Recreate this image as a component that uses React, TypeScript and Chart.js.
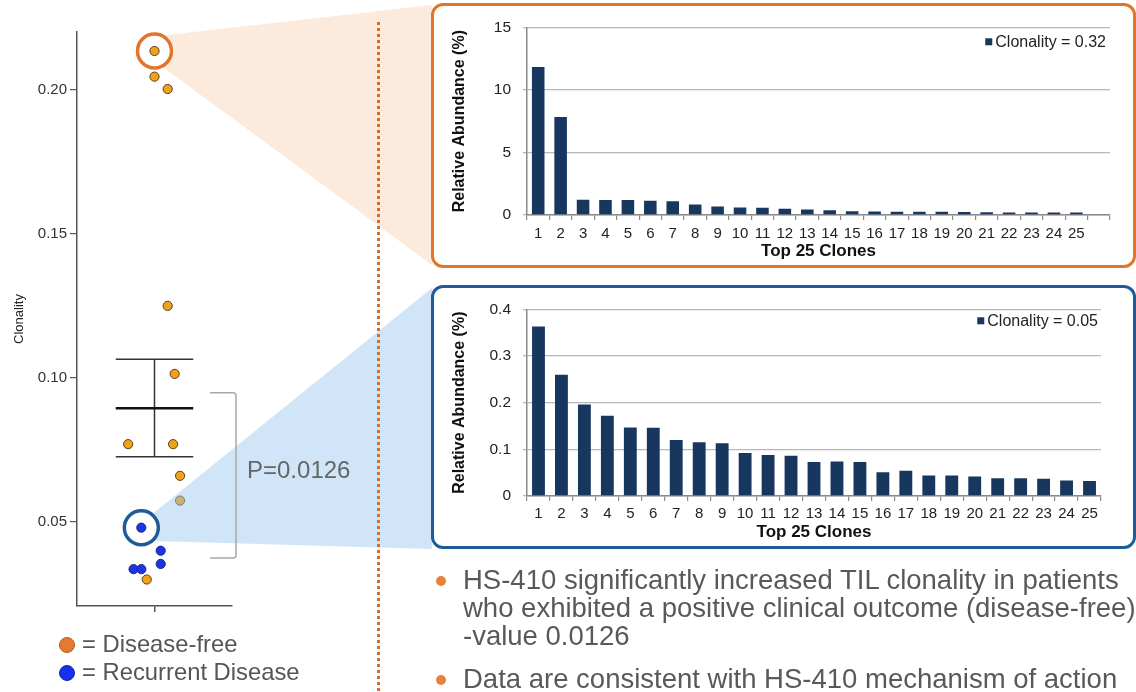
import React, { useEffect, useRef } from "react";
import { Chart, registerables } from "chart.js";

Chart.register(...registerables);

// ---------- Data ----------
const CLONALITY_TICKS = [0.05, 0.1, 0.15, 0.2];
const DISEASE_FREE_X = [0, 0, 0.17, 0.17, 0.26, -0.34, 0.24, 0.33, 0.33, -0.1];
const DISEASE_FREE_Y = [0.2135, 0.2046, 0.2003, 0.125, 0.1014, 0.077, 0.077, 0.066, 0.0574, 0.03];
const RECURRENT_X = [-0.17, 0.08, 0.08, -0.27, -0.17];
const RECURRENT_Y = [0.048, 0.04, 0.0354, 0.0336, 0.0336];
const GROUP_MEAN = 0.0895;
const SEM_UPPER = 0.1065;
const SEM_LOWER = 0.0726;
const BRACKET_RANGE = [0.0375, 0.0948];
const P_VALUE_LABEL = "P=0.0126";

const CLONE_LABELS = [
  "1", "2", "3", "4", "5", "6", "7", "8", "9", "10", "11", "12", "13",
  "14", "15", "16", "17", "18", "19", "20", "21", "22", "23", "24", "25",
];
const HIGH_ABUNDANCE = [
  11.82, 7.83, 1.21, 1.19, 1.19, 1.13, 1.1, 0.83, 0.68, 0.6, 0.57, 0.5, 0.43,
  0.38, 0.3, 0.27, 0.26, 0.25, 0.25, 0.23, 0.22, 0.2, 0.2, 0.19, 0.19,
];
const LOW_ABUNDANCE = [
  0.363, 0.26, 0.196, 0.172, 0.147, 0.146, 0.12, 0.115, 0.113, 0.092, 0.088,
  0.086, 0.073, 0.074, 0.073, 0.051, 0.054, 0.044, 0.044, 0.042, 0.038, 0.038,
  0.037, 0.033, 0.032,
];
const HIGH_LEGEND = "Clonality = 0.32";
const LOW_LEGEND = "Clonality = 0.05";

const FONT = '"Liberation Sans", Arial, Helvetica, sans-serif';
const NAVY = "#18375f";
const ORANGE_LINE = "#e2752c";
const BLUE_LINE = "#1f5b98";

// ---------- Scatter (left) ----------
function scatterConfig(): any {
  const decor = {
    id: "decor",
    afterDatasetsDraw(chart: any) {
      const { ctx, scales, chartArea } = chart;
      const x = scales.x;
      const y = scales.y;
      const R = 18;
      const hx = x.getPixelForValue(DISEASE_FREE_X[0]);
      const hy = y.getPixelForValue(DISEASE_FREE_Y[0]);
      const bx = x.getPixelForValue(RECURRENT_X[0]);
      const by = y.getPixelForValue(RECURRENT_Y[0]);
      const boxLeft = 432;
      ctx.save();
      // orange wedge
      const a1 = (-56 * Math.PI) / 180;
      const a2 = (61 * Math.PI) / 180;
      ctx.beginPath();
      ctx.moveTo(boxLeft, 5);
      ctx.lineTo(boxLeft, 265);
      ctx.lineTo(hx + (R + 1) * Math.cos(a2), hy + (R + 1) * Math.sin(a2));
      ctx.arc(hx, hy, R + 1, a2, a1, true);
      ctx.closePath();
      ctx.fillStyle = "rgba(240,160,100,0.22)";
      ctx.fill();
      // blue wedge
      const b1 = (-50 * Math.PI) / 180;
      const b2 = (45 * Math.PI) / 180;
      ctx.beginPath();
      ctx.moveTo(boxLeft, 288);
      ctx.lineTo(boxLeft, 549);
      ctx.lineTo(bx + (R + 1) * Math.cos(b2), by + (R + 1) * Math.sin(b2));
      ctx.arc(bx, by, R + 1, b2, b1, true);
      ctx.closePath();
      ctx.fillStyle = "rgba(150,198,238,0.45)";
      ctx.fill();
      // dotted separator
      ctx.beginPath();
      ctx.setLineDash([3, 3]);
      ctx.strokeStyle = "#e06a1c";
      ctx.lineWidth = 3;
      ctx.moveTo(378.5, 22);
      ctx.lineTo(378.5, 692);
      ctx.stroke();
      ctx.setLineDash([]);
      // highlight circles
      ctx.lineWidth = 3.5;
      ctx.strokeStyle = ORANGE_LINE;
      ctx.beginPath();
      ctx.arc(hx, hy, R - 1, 0, Math.PI * 2);
      ctx.stroke();
      ctx.strokeStyle = BLUE_LINE;
      ctx.beginPath();
      ctx.arc(bx, by, R - 1, 0, Math.PI * 2);
      ctx.stroke();
      // bracket
      const t = y.getPixelForValue(BRACKET_RANGE[1]);
      const b = y.getPixelForValue(BRACKET_RANGE[0]);
      const xr = chartArea.right + 4;
      const xl = chartArea.right - 22;
      ctx.strokeStyle = "#a8a8a8";
      ctx.lineWidth = 1.5;
      ctx.beginPath();
      ctx.moveTo(xl, t);
      ctx.lineTo(xr - 3, t);
      ctx.quadraticCurveTo(xr, t, xr, t + 3);
      ctx.lineTo(xr, b - 3);
      ctx.quadraticCurveTo(xr, b, xr - 3, b);
      ctx.lineTo(xl, b);
      ctx.stroke();
      // p-value
      ctx.fillStyle = "#666";
      ctx.font = `24px ${FONT}`;
      ctx.textBaseline = "middle";
      ctx.textAlign = "left";
      ctx.fillText(P_VALUE_LABEL, chartArea.right + 15, (t + b) / 2 - 4);
      ctx.restore();
    },
  };

  const seg = (pts: { x: number; y: number }[], color: string, w: number) => ({
    data: pts,
    showLine: true,
    borderColor: color,
    borderWidth: w,
    pointRadius: 0,
    fill: false,
  });

  return {
    type: "scatter",
    data: {
      datasets: [
        seg([{ x: -0.5, y: GROUP_MEAN }, { x: 0.5, y: GROUP_MEAN }], "#111", 2.5),
        seg([{ x: -0.5, y: SEM_UPPER }, { x: 0.5, y: SEM_UPPER }], "#333", 1.5),
        seg([{ x: -0.5, y: SEM_LOWER }, { x: 0.5, y: SEM_LOWER }], "#333", 1.5),
        seg([{ x: 0, y: SEM_LOWER }, { x: 0, y: SEM_UPPER }], "#333", 1.5),
        {
          label: "Disease-free",
          data: DISEASE_FREE_X.map((v, i) => ({ x: v, y: DISEASE_FREE_Y[i] })),
          backgroundColor: "#f0a21f",
          borderColor: "#5e4012",
          borderWidth: 1,
          pointRadius: 4.6,
        },
        {
          label: "Recurrent Disease",
          data: RECURRENT_X.map((v, i) => ({ x: v, y: RECURRENT_Y[i] })),
          backgroundColor: "#1b34e8",
          borderColor: "#1b2a78",
          borderWidth: 1,
          pointRadius: 4.6,
        },
      ],
    },
    options: {
      responsive: false,
      animation: false,
      devicePixelRatio: 1,
      layout: { padding: { left: 0, top: 32, right: 904, bottom: 0 } },
      plugins: { legend: { display: false }, tooltip: { enabled: false } },
      scales: {
        x: {
          type: "linear",
          min: -1,
          max: 1,
          afterBuildTicks: (axis: any) => {
            axis.ticks = [{ value: 0 }];
          },
          ticks: { callback: () => "", font: { size: 1 } },
          grid: { drawOnChartArea: false, drawTicks: true, tickLength: 6, color: "#555", lineWidth: 1.5 },
          border: { color: "#555", width: 1.5 },
          afterFit: (axis: any) => {
            axis.height = 86;
          },
        },
        y: {
          type: "linear",
          min: 0.0208,
          max: 0.2201,
          afterBuildTicks: (axis: any) => {
            axis.ticks = CLONALITY_TICKS.map((v) => ({ value: v }));
          },
          ticks: {
            callback: (v: any) => Number(v).toFixed(2),
            font: { size: 15, family: FONT },
            color: "#333",
            padding: 3,
          },
          grid: { drawOnChartArea: false, drawTicks: true, tickLength: 7, color: "#555", lineWidth: 1.2 },
          border: { color: "#555", width: 1.5 },
          title: {
            display: true,
            text: "Clonality",
            font: { size: 13, family: FONT },
            color: "#222",
            padding: { top: 12, bottom: 0 },
          },
          afterFit: (axis: any) => {
            axis.width = 77;
          },
        },
      },
    },
    plugins: [decor],
  };
}

// ---------- Bar charts (right) ----------
function legendPlugin(dx: number, dy: number) {
  return {
    id: "cornerLegend",
    afterDraw(chart: any) {
      const { ctx, chartArea } = chart;
      const ds = chart.data.datasets[0];
      ctx.save();
      ctx.font = `16px ${FONT}`;
      ctx.fillStyle = "#222";
      ctx.textAlign = "right";
      ctx.textBaseline = "middle";
      const tx = chartArea.right - dx;
      const ty = chartArea.top + dy;
      ctx.fillText(ds.label, tx, ty);
      const w = ctx.measureText(ds.label).width;
      ctx.fillStyle = ds.backgroundColor;
      ctx.fillRect(tx - w - 10, ty - 4, 7, 7);
      ctx.restore();
    },
  };
}

function barConfig(
  labels: string[],
  values: number[],
  legendText: string,
  yMax: number,
  yStep: number,
  padTop: number,
  padRight: number,
  axisH: number,
  tickPad: number,
  titlePad: number,
  legendDx: number,
  legendDy: number
): any {
  return {
    type: "bar",
    data: {
      labels,
      datasets: [
        {
          label: legendText,
          data: values,
          backgroundColor: NAVY,
          borderWidth: 0,
          barPercentage: 0.56,
          categoryPercentage: 1,
        },
      ],
    },
    options: {
      responsive: false,
      animation: false,
      devicePixelRatio: 1,
      layout: { padding: { left: 0, top: padTop, right: padRight, bottom: 0 } },
      plugins: { legend: { display: false }, tooltip: { enabled: false } },
      scales: {
        x: {
          grid: { offset: true, drawOnChartArea: false, drawTicks: true, tickLength: 5, color: "#8a8a8a", lineWidth: 1.2 },
          border: { color: "#8a8a8a", width: 1.5 },
          ticks: { font: { size: 15, family: FONT }, color: "#222", padding: tickPad, maxRotation: 0, autoSkip: false },
          title: {
            display: true,
            text: "Top 25 Clones",
            font: { size: 17, weight: "bold", family: FONT },
            color: "#111",
            padding: { top: 0, bottom: titlePad },
          },
          afterFit: (axis: any) => {
            axis.height = axisH;
          },
        },
        y: {
          min: 0,
          max: yMax,
          ticks: { stepSize: yStep, font: { size: 15.5, family: FONT }, color: "#222", padding: 12 },
          grid: { color: "#b8b8b8", lineWidth: 1.3, drawTicks: true, tickLength: 4 },
          border: { color: "#8a8a8a", width: 1.5 },
          title: {
            display: true,
            text: "Relative Abundance (%)",
            font: { size: 16, weight: "bold", family: FONT },
            color: "#111",
            padding: { top: 16, bottom: 0 },
          },
          afterFit: (axis: any) => {
            axis.width = 93;
          },
        },
      },
    },
    plugins: [legendPlugin(legendDx, legendDy)],
  };
}

export default function App() {
  const scatterRef = useRef<HTMLCanvasElement>(null);
  const topRef = useRef<HTMLCanvasElement>(null);
  const botRef = useRef<HTMLCanvasElement>(null);

  useEffect(() => {
    const charts = [
      new Chart(scatterRef.current as HTMLCanvasElement, scatterConfig()),
      new Chart(
        topRef.current as HTMLCanvasElement,
        barConfig([...CLONE_LABELS, ""], HIGH_ABUNDANCE, HIGH_LEGEND, 15, 5, 11, 22, 50, 5, 3, 4, 15)
      ),
      new Chart(
        botRef.current as HTMLCanvasElement,
        barConfig(CLONE_LABELS, LOW_ABUNDANCE, LOW_LEGEND, 0.4, 0.1, 10, 31, 51, 4, 4, 3, 12)
      ),
    ];
    return () => charts.forEach((c) => c.destroy());
  }, []);

  const textLine = (top: number, left: number, size: number, text: string, color = "#595959") => (
    <div
      style={{
        position: "absolute",
        left,
        top,
        fontSize: size,
        lineHeight: `${size}px`,
        whiteSpace: "nowrap",
        color,
      }}
    >
      {text}
    </div>
  );

  const dot = (cx: number, cy: number, r: number, fill: string, border?: string) => (
    <div
      style={{
        position: "absolute",
        left: cx - r,
        top: cy - r,
        width: 2 * r,
        height: 2 * r,
        borderRadius: "50%",
        background: fill,
        boxSizing: "border-box",
        border: border ? `1px solid ${border}` : "none",
      }}
    />
  );

  return (
    <div
      style={{
        position: "absolute",
        left: 0,
        top: 0,
        width: 1136,
        height: 692,
        overflow: "hidden",
        background: "#fff",
        fontFamily: FONT,
      }}
    >
      <canvas ref={scatterRef} width={1136} height={692} style={{ position: "absolute", left: 0, top: 0, display: "block" }} />
      <div
        style={{
          position: "absolute",
          left: 431,
          top: 3,
          width: 705,
          height: 265,
          boxSizing: "border-box",
          border: `3px solid ${ORANGE_LINE}`,
          borderRadius: 12,
        }}
      />
      <div
        style={{
          position: "absolute",
          left: 431,
          top: 285,
          width: 705,
          height: 264,
          boxSizing: "border-box",
          border: `3px solid ${BLUE_LINE}`,
          borderRadius: 12,
        }}
      />
      <canvas ref={topRef} width={698} height={259} style={{ position: "absolute", left: 434, top: 6, display: "block" }} />
      <canvas ref={botRef} width={698} height={259} style={{ position: "absolute", left: 434, top: 288, display: "block" }} />

      {dot(67, 645, 8, "#e47a2e", "#b85a1c")}
      {textLine(632, 82, 23.8, "= Disease-free", "#555")}
      {dot(67, 673, 8, "#1432ee", "#1a2a9a")}
      {textLine(660, 82, 23.8, "= Recurrent Disease", "#555")}

      {dot(441, 581, 5, "#e8823a")}
      {textLine(566, 463, 27.5, "HS-410 significantly increased TIL clonality in patients")}
      {textLine(594, 463, 27.5, "who exhibited a positive clinical outcome (disease-free)")}
      {textLine(622, 463, 27.5, "-value 0.0126")}
      {dot(441, 680, 5, "#e8823a")}
      {textLine(665, 463, 27.5, "Data are consistent with HS-410 mechanism of action")}
    </div>
  );
}
